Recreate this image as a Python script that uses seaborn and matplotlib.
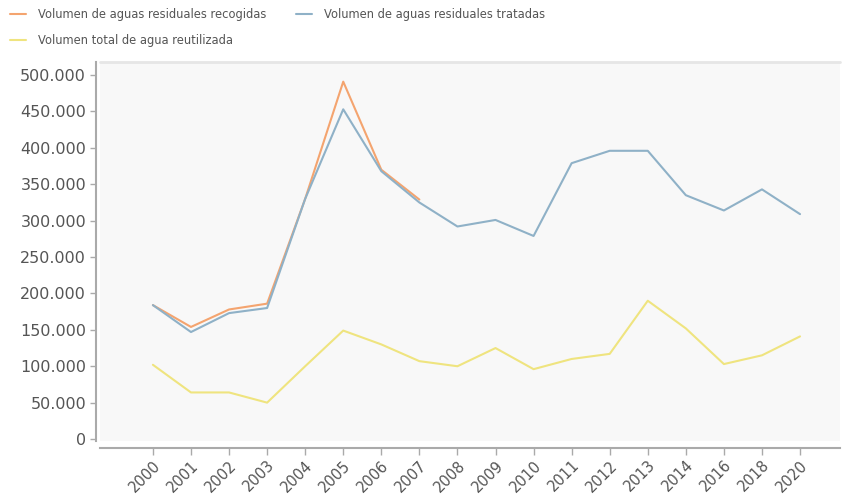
import numpy as np
import pandas as pd
import matplotlib
matplotlib.use("Agg")
import matplotlib.pyplot as plt
import seaborn as sns
from matplotlib.ticker import FuncFormatter

years = ["2000", "2001", "2002", "2003", "2004", "2005", "2006", "2007", "2008",
         "2009", "2010", "2011", "2012", "2013", "2014", "2016", "2018", "2020"]
recogidas = [184000, 154000, 178000, 186000, 330000, 491000, 370000, 329000,
             np.nan, np.nan, np.nan, np.nan, np.nan, np.nan, np.nan, np.nan, np.nan, np.nan]
tratadas = [184000, 147000, 173000, 180000, 330000, 453000, 368000, 325000, 292000,
            301000, 279000, 379000, 396000, 396000, 335000, 314000, 343000, 309000]
reutilizada = [102000, 64000, 64000, 50000, 100000, 149000, 130000, 107000, 100000,
               125000, 96000, 110000, 117000, 190000, 152000, 103000, 115000, 141000]

series_names = ["Volumen de aguas residuales recogidas",
                "Volumen de aguas residuales tratadas",
                "Volumen total de agua reutilizada"]
colors = ["#f4a46f", "#8fb1c7", "#efe47f"]

rows = []
for name, vals in zip(series_names, [recogidas, tratadas, reutilizada]):
    for i, (y, v) in enumerate(zip(years, vals)):
        rows.append({"pos": i, "year": y, "value": v, "serie": name})
df = pd.DataFrame(rows)

sns.set_theme(style="white")
plt.rcParams['font.family'] = ['DejaVu Sans']

fig = plt.figure(figsize=(8.42, 4.99), dpi=100)
ax = fig.add_axes([100/842, 1 - 441/499, 740/842, (441 - 62)/499])
ax.set_facecolor("#f8f8f8")

for name, col in zip(series_names, colors):
    sub = df[df["serie"] == name].dropna()
    sns.lineplot(data=sub, x="pos", y="value", ax=ax, color=col, linewidth=1.5,
                 label=name, estimator=None, sort=False)

ax.set_xlim(-1.39, 18.05)
ax.set_ylim(-2700, 518000)
ax.set_yticks(np.arange(0, 500001, 50000))
ax.yaxis.set_major_formatter(FuncFormatter(lambda v, p: f"{int(v):,}".replace(",", ".")))
ax.set_xticks(range(len(years)))
ax.set_xticklabels(years)
ax.set_xlabel("")
ax.set_ylabel("")

for s in ["top", "right"]:
    ax.spines[s].set_visible(False)
ax.spines["left"].set_position(("outward", 3))
ax.spines["bottom"].set_position(("outward", 5))
ax.spines["left"].set_color("#aaaaaa")
ax.spines["bottom"].set_color("#aaaaaa")
ax.spines["left"].set_linewidth(1.5)
ax.spines["bottom"].set_linewidth(1.5)
ax.tick_params(axis="y", length=4, width=1, color="#aaaaaa", labelsize=11.5,
               labelcolor="#555555", left=True, pad=3)
ax.tick_params(axis="x", length=5, width=1, color="#aaaaaa", labelsize=10.5,
               labelcolor="#555555", bottom=True, pad=2)
for lab in ax.get_xticklabels():
    lab.set_rotation(45)
    lab.set_ha("right")
    lab.set_rotation_mode("anchor")
# thin top border of plot area
ax.axhline(518000, color="#e6e6e6", linewidth=2, clip_on=False)

ax.legend_.remove()
handles, labels = ax.get_legend_handles_labels()
order = [0, 2, 1]
leg = fig.legend([handles[i] for i in order], [labels[i] for i in order],
                 loc="upper left", bbox_to_anchor=(0.0, 1.005),
                 ncol=2, frameon=False, fontsize=8.3, handlelength=1.35,
                 handletextpad=1.05, columnspacing=2.6, labelspacing=1.15,
                 labelcolor="#555555")
for ln in leg.get_lines():
    ln.set_linewidth(1.5)

fig.savefig("out.png", dpi=100)
